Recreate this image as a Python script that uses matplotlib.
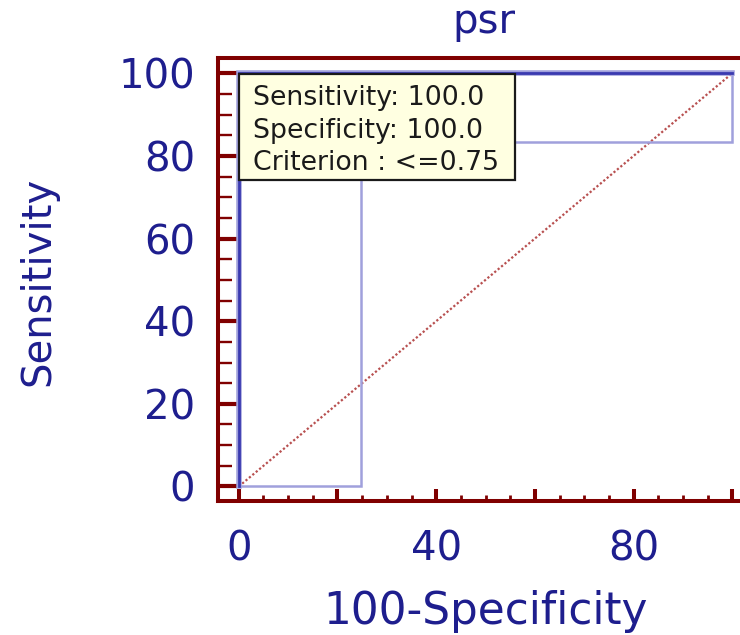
import matplotlib
matplotlib.use("Agg")
import matplotlib.pyplot as plt
from matplotlib.patches import Rectangle
from matplotlib.ticker import FixedLocator, FixedFormatter

plt.rcParams['font.family'] = ['DejaVu Sans']

# ---- data ----
title = "psr"
x_label = "100-Specificity"
y_label = "Sensitivity"
roc_x = [0, 0, 100]
roc_y = [0, 100, 100]
ci_upper_x = [0, 0, 100]
ci_upper_y = [0, 100, 100]
ci_lower_x = [0, 24.8, 24.8, 100, 100]
ci_lower_y = [0, 0, 83.3, 83.3, 100]
diag_x = [0, 100]
diag_y = [0, 100]
x_major = [0, 20, 40, 60, 80, 100]
x_major_labels = ["0", "", "40", "", "80", ""]
y_major = [0, 20, 40, 60, 80, 100]
y_major_labels = ["0", "20", "40", "60", "80", "100"]
minor_ticks = [5, 10, 15, 25, 30, 35, 45, 50, 55, 65, 70, 75, 85, 90, 95]
info_lines = ["Sensitivity: 100.0", "Specificity: 100.0", "Criterion : <=0.75"]

NAVY = '#1e1e8e'
MAROON = '#800000'
ROC_BLUE = '#3a3ab0'
CI_BLUE = '#a0a0dc'
DIAG = '#b85050'

fig = plt.figure(figsize=(7.4, 6.35), dpi=100)
ax = fig.add_axes([0.2946, 0.2106, 0.7054, 0.6988])
ax.set_xlim(-4.21, 101.56)
ax.set_ylim(-3.58, 103.8)

# lines
ax.plot(diag_x, diag_y, color=DIAG, lw=1.6, linestyle=(0, (1, 1)), zorder=2)
ax.plot(ci_lower_x, ci_lower_y, color=CI_BLUE, lw=1.8, zorder=3,
        solid_joinstyle='miter', clip_on=False)
ax.plot(ci_upper_x, ci_upper_y, color=CI_BLUE, lw=4.0, zorder=3,
        solid_joinstyle='miter', clip_on=False)
ax.plot(roc_x, roc_y, color=ROC_BLUE, lw=2.0, zorder=4,
        solid_joinstyle='miter', clip_on=False)

# info box
ax.add_patch(Rectangle((0.1, 74.2), 55.95, 25.56, facecolor='#ffffe1',
                       edgecolor='#1a1a1a', lw=1.6, zorder=6))
for txt, yb in zip(info_lines, [92.3, 84.4, 76.6]):
    ax.text(2.82, yb, txt, fontsize=19.3, color='#1a1a1a', va='baseline',
            ha='left', zorder=7)

# spines
for side in ['left', 'bottom', 'top']:
    ax.spines[side].set_color(MAROON)
    ax.spines[side].set_linewidth(2.9)
ax.spines['right'].set_visible(False)

# ticks
ax.xaxis.set_major_locator(FixedLocator(x_major))
ax.xaxis.set_major_formatter(FixedFormatter(x_major_labels))
ax.xaxis.set_minor_locator(FixedLocator(minor_ticks))
ax.yaxis.set_major_locator(FixedLocator(y_major))
ax.yaxis.set_major_formatter(FixedFormatter(y_major_labels))
ax.yaxis.set_minor_locator(FixedLocator(minor_ticks))

ax.tick_params(axis='x', which='major', direction='in', length=8.6, width=2.9,
               color=MAROON, labelcolor=NAVY, labelsize=29, pad=20)
ax.tick_params(axis='x', which='minor', direction='in', length=4.5, width=2.0,
               color=MAROON)
ax.tick_params(axis='y', which='major', direction='in', length=13.5, width=3.0,
               color=MAROON, labelcolor=NAVY, labelsize=29, pad=16.5)
ax.tick_params(axis='y', which='minor', direction='in', length=9.9, width=1.7,
               color=MAROON)

ax.set_xlabel(x_label, fontsize=31.5, color=NAVY)
ax.xaxis.set_label_coords(0.513, -0.201)
ax.set_ylabel(y_label, fontsize=29, color=NAVY)
ax.yaxis.set_label_coords(-0.3065, 0.495)

ax.set_title(title, fontsize=29, color=NAVY, x=(484 - 218) / 522,
             y=(501.3 - 32.5) / 443.8, pad=0, va='baseline')

fig.savefig("out.png", dpi=100)
